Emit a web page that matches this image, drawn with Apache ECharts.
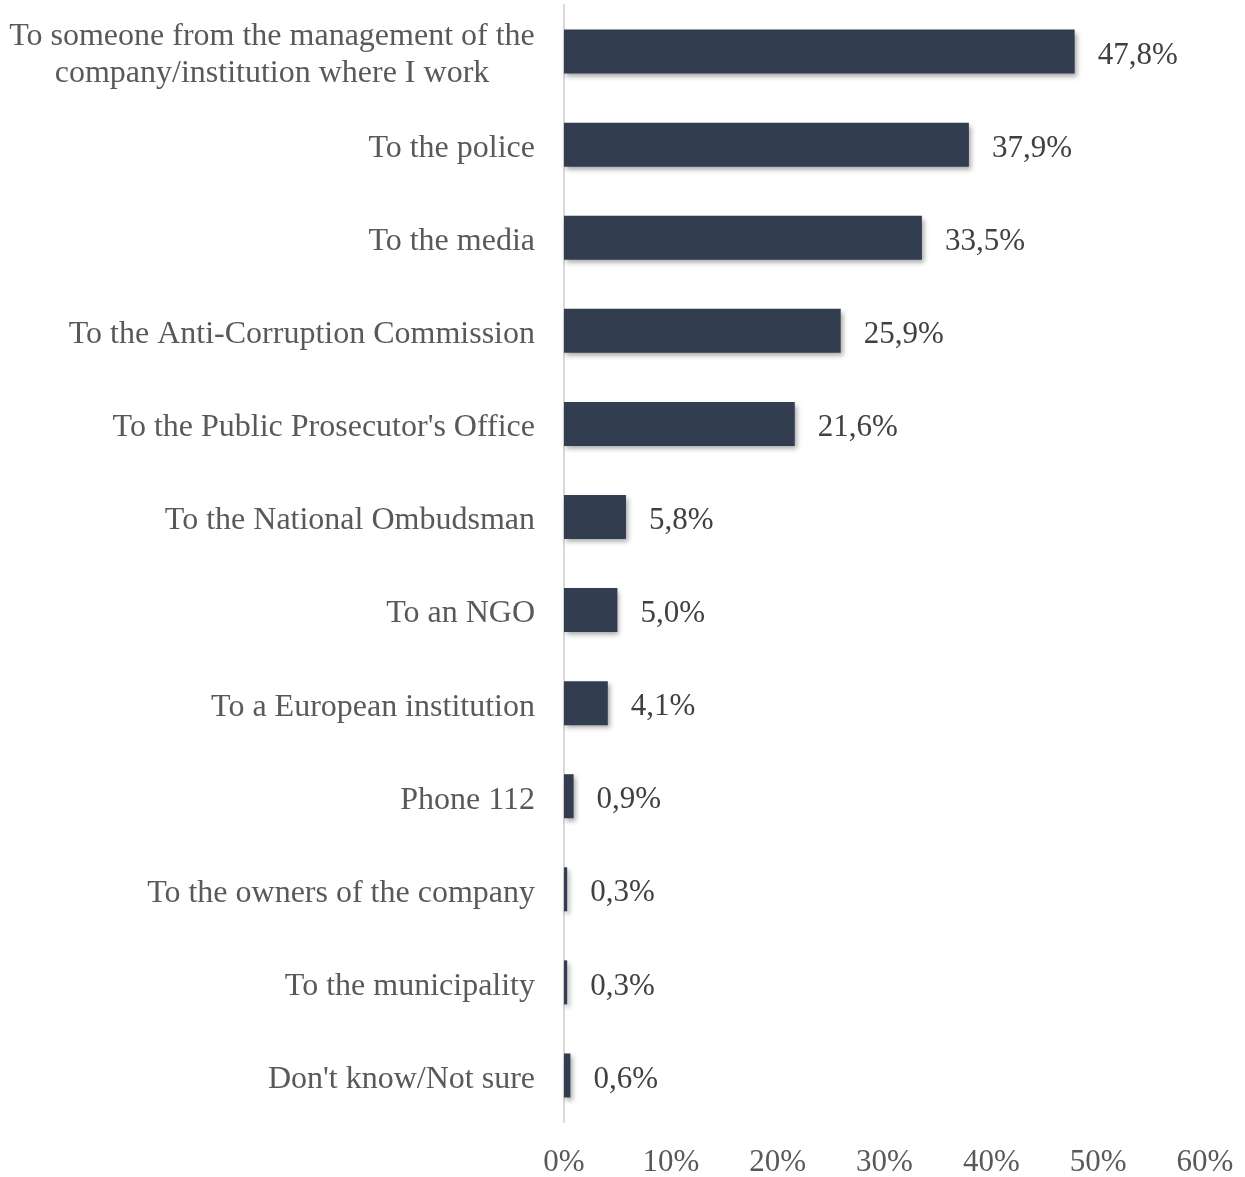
<!DOCTYPE html>
<html>
<head>
<meta charset="utf-8">
<script src="https://cdn.jsdelivr.net/npm/echarts@6/dist/echarts.min.js"></script>
<style>
  html, body { margin: 0; padding: 0; background: #ffffff; }
  #chart { width: 1245px; height: 1177px; }
</style>
</head>
<body>
<div id="chart"></div>
<script>
// Where respondents would report corruption (share of answers, %)
const categories = [
  "To someone from the management of the\ncompany/institution where I work",
  "To the police",
  "To the media",
  "To the Anti-Corruption Commission",
  "To the Public Prosecutor's Office",
  "To the National Ombudsman",
  "To an NGO",
  "To a European institution",
  "Phone 112",
  "To the owners of the company",
  "To the municipality",
  "Don't know/Not sure"
];
const values = [47.8, 37.9, 33.5, 25.9, 21.6, 5.8, 5.0, 4.1, 0.9, 0.3, 0.3, 0.6];
const axisTicks = [0, 10, 20, 30, 40, 50, 60];

const FONT = "'Liberation Serif', 'Times New Roman', serif";
const LABEL_COLOR = '#595959';

// The two-line first label is centred line-by-line; right padding shifts its block left
const yData = categories.map((c, i) => i === 0
  ? { value: c, textStyle: { align: 'center', padding: [0, 526, 0, 0] } }
  : c);

const chart = echarts.init(document.getElementById('chart'), null, { renderer: 'canvas' });
chart.setOption({
  animation: false,
  backgroundColor: '#ffffff',
  grid: {
    left: 564, right: 40, top: 5, bottom: 55,
    containLabel: false,
    outerBoundsMode: 'none'
  },
  xAxis: {
    type: 'value',
    min: axisTicks[0],
    max: axisTicks[axisTicks.length - 1],
    interval: 10,
    axisLine: { show: false },
    axisTick: { show: false },
    splitLine: { show: false },
    axisLabel: {
      formatter: v => v + '%',
      color: LABEL_COLOR,
      fontFamily: FONT,
      fontSize: 31,
      margin: 25
    }
  },
  yAxis: {
    type: 'category',
    inverse: true,
    data: yData,
    axisLine: { show: true, lineStyle: { color: '#d9d9d9', width: 2 } },
    axisTick: { show: false },
    axisLabel: {
      color: LABEL_COLOR,
      fontFamily: FONT,
      fontSize: 32,
      margin: 29,
      align: 'right',
      // a thin spacer line on top nudges the text block slightly downward
      formatter: v => '{s| }\n' + v.split('\n').map(s => '{t|' + s + '}').join('\n'),
      rich: {
        s: { fontSize: 1, lineHeight: 8 },
        t: { fontSize: 32, lineHeight: 37, fontFamily: FONT, color: LABEL_COLOR }
      }
    }
  },
  series: [{
    type: 'bar',
    data: values,
    barWidth: 44,
    itemStyle: {
      color: '#333d50',
      shadowColor: 'rgba(0,0,0,0.35)',
      shadowBlur: 5,
      shadowOffsetX: 2,
      shadowOffsetY: 3
    },
    label: {
      show: true,
      position: 'right',
      distance: 23,
      offset: [0, 4],
      color: '#404040',
      fontFamily: FONT,
      fontSize: 31,
      formatter: p => p.value.toFixed(1).replace('.', ',') + '%'
    }
  }]
});
</script>
</body>
</html>
